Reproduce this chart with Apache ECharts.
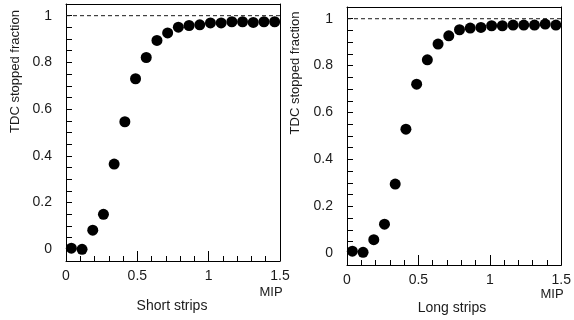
<!DOCTYPE html>
<html><head><meta charset="utf-8">
<script src="https://cdn.jsdelivr.net/npm/echarts@6/dist/echarts.min.js"></script>
<style>html,body{margin:0;padding:0;background:#fff}#c{width:574px;height:320px}</style>
</head><body><div id="c"></div>
<script>
const mipBins = [0.0375,0.1125,0.1875,0.2625,0.3375,0.4125,0.4875,0.5625,0.6375,0.7125,0.7875,0.8625,0.9375,1.0125,1.0875,1.1625,1.2375,1.3125,1.3875,1.4625];
const shortStrips = [0.005,0.0,0.082,0.15,0.365,0.546,0.73,0.821,0.894,0.926,0.951,0.958,0.961,0.969,0.969,0.974,0.974,0.971,0.974,0.974];
const longStrips  = [0.009,0.004,0.058,0.124,0.295,0.529,0.721,0.825,0.892,0.927,0.953,0.96,0.963,0.97,0.97,0.973,0.973,0.973,0.977,0.973];
const fullEfficiency = [[0,1],[1.5,1]];
const yMajor = [0,0.2,0.4,0.6,0.8,1];
const panelNames = ['Short strips','Long strips'];
const yTitle = 'TDC stopped fraction';
const xUnit = 'MIP';

const FONT = 'Liberation Sans, Arial, sans-serif';
const INK = '#1a1a1a';
const AX = '#000';
const chart = echarts.init(document.getElementById('c'));

const grids = [
  {left:66, top:4, width:214, height:257},
  {left:347, top:7, width:216, height:258}
];
const namePad = [[44,122],[45,126]];

const xAxes = [], yAxes = [], series = [];
[shortStrips, longStrips].forEach((vals, i) => {
  const xi = xAxes.length, yi = yAxes.length;
  xAxes.push({
    type:'value', gridIndex:i, min:0, max:1.5, interval:0.5, position:'bottom',
    axisLine:{show:true, onZero:false, lineStyle:{color:AX}},
    axisTick:{show:true, inside:true, length:10, lineStyle:{color:AX}},
    minorTick:{show:true, splitNumber:5, length:5, lineStyle:{color:AX}},
    splitLine:{show:false}, minorSplitLine:{show:false},
    axisLabel:{color:INK, fontFamily:FONT, fontSize:14, margin:8}
  });
  xAxes.push({
    type:'value', gridIndex:i, min:0, max:1.5, position:'top',
    axisLine:{show:true, onZero:false, lineStyle:{color:AX}},
    axisTick:{show:false}, splitLine:{show:false}, axisLabel:{show:false}
  });
  yAxes.push({
    type:'value', gridIndex:i, min:-0.05, max:1.05, interval:0.05, position:'left',
    axisLine:{show:true, onZero:false, lineStyle:{color:AX}},
    axisTick:{show:true, inside:true, length:6, lineStyle:{color:AX}},
    splitLine:{show:false},
    axisLabel:{color:INK, fontFamily:FONT, fontSize:14, margin:14, customValues:yMajor},
    name:yTitle, nameLocation:'middle', nameRotate:90, nameGap:namePad[i][0],
    nameTextStyle:{color:INK, fontFamily:FONT, fontSize:13, padding:[0,0,0,namePad[i][1]]}
  });
  yAxes.push({
    type:'value', gridIndex:i, min:-0.05, max:1.05, position:'right',
    axisLine:{show:true, onZero:false, lineStyle:{color:AX}},
    axisTick:{show:false}, splitLine:{show:false}, axisLabel:{show:false}
  });
  series.push({
    type:'scatter', xAxisIndex:xi, yAxisIndex:yi,
    data: mipBins.map((x,k)=>[x, vals[k]]),
    symbol:'circle', symbolSize:11,
    itemStyle:{color:'#000', opacity:1}
  });
  series.push({
    type:'line', xAxisIndex:xi, yAxisIndex:yi,
    data: fullEfficiency, showSymbol:false, symbol:'none', silent:true,
    lineStyle:{type:[4,3], color:INK, width:1}
  });
});

const titles = [];
[[271,286],[552,288]].forEach(([x,y])=>{
  titles.push({text:xUnit, left:x, top:y, textAlign:'center', padding:0,
    textStyle:{color:INK, fontFamily:FONT, fontSize:13, fontWeight:'normal'}});
});
[[172,299,0],[452,301,1]].forEach(([x,y,k])=>{
  titles.push({text:panelNames[k], left:x, top:y, textAlign:'center', padding:0,
    textStyle:{color:INK, fontFamily:FONT, fontSize:14, fontWeight:'normal'}});
});

chart.setOption({
  animation:false,
  title:titles,
  grid: grids,
  xAxis:xAxes, yAxis:yAxes, series:series
});
</script></body></html>
